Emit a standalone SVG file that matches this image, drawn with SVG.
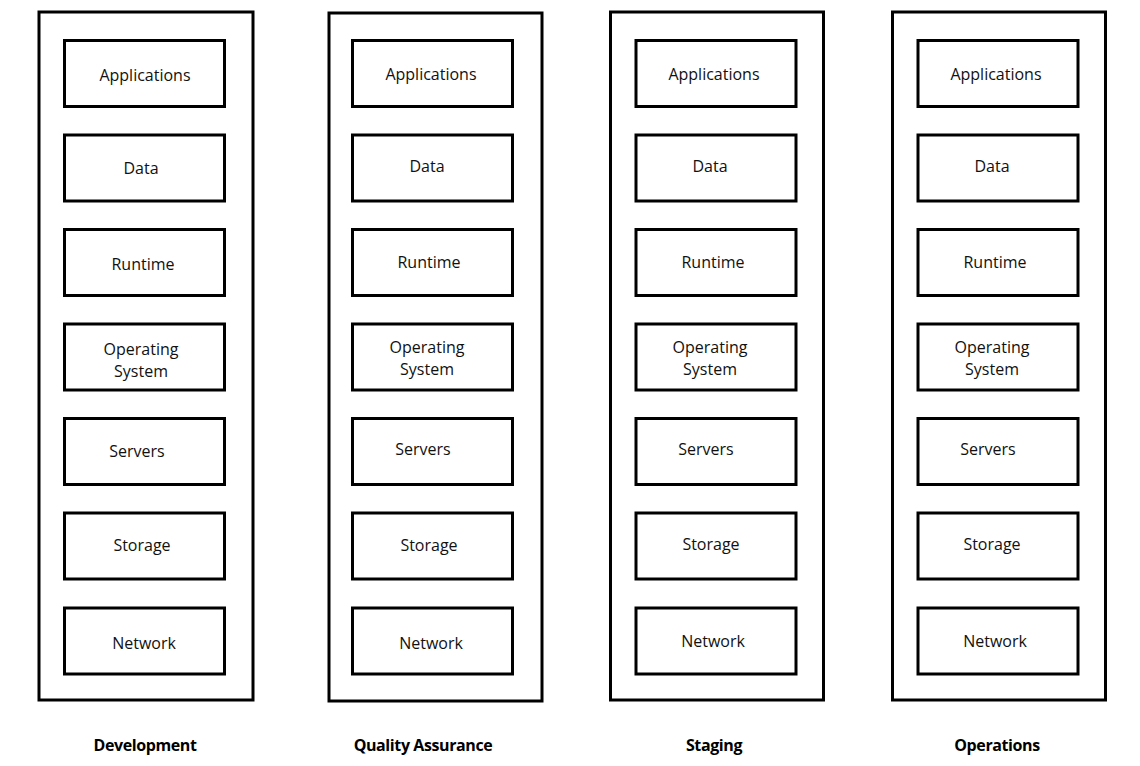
<svg xmlns="http://www.w3.org/2000/svg" width="1140" height="766" viewBox="0 0 1140 766">
<style>
.outer{fill:#fff;stroke:#000;stroke-width:3}
.box{fill:#fff;stroke:#000;stroke-width:3}
.t{font-family:"Open Sans","Noto Sans",sans-serif;font-size:16px;fill:#111;text-anchor:middle;dominant-baseline:central}
.lbl{font-family:"Open Sans","Noto Sans",sans-serif;font-size:16px;font-weight:bold;fill:#000;text-anchor:middle;letter-spacing:-0.4px}
</style>
<rect width="1140" height="766" fill="#fff"/>
<g id="development">
<rect class="outer" x="39" y="12" width="214" height="688"/>
<g id="dev-applications"><rect class="box" x="64.5" y="40.5" width="160" height="66"/><text class="t" x="145" y="75">Applications</text></g>
<g id="dev-data"><rect class="box" x="64.5" y="135" width="160" height="66"/><text class="t" x="141" y="168">Data</text></g>
<g id="dev-runtime"><rect class="box" x="64.5" y="229.5" width="160" height="66"/><text class="t" x="143" y="264">Runtime</text></g>
<g id="dev-os"><rect class="box" x="64.5" y="324" width="160" height="66"/><text class="t" x="141" y="349">Operating</text><text class="t" x="141" y="371">System</text></g>
<g id="dev-servers"><rect class="box" x="64.5" y="418.5" width="160" height="66"/><text class="t" x="137" y="451">Servers</text></g>
<g id="dev-storage"><rect class="box" x="64.5" y="513" width="160" height="66"/><text class="t" x="142" y="545">Storage</text></g>
<g id="dev-network"><rect class="box" x="64.5" y="608" width="160" height="66"/><text class="t" x="144" y="643">Network</text></g>
<text class="lbl" x="145" y="751">Development</text>
</g>
<g id="qa">
<rect class="outer" x="329" y="13" width="213" height="688"/>
<g id="qa-applications"><rect class="box" x="352.5" y="40.5" width="160" height="66"/><text class="t" x="431" y="74">Applications</text></g>
<g id="qa-data"><rect class="box" x="352.5" y="135" width="160" height="66"/><text class="t" x="427" y="166">Data</text></g>
<g id="qa-runtime"><rect class="box" x="352.5" y="229.5" width="160" height="66"/><text class="t" x="429" y="262">Runtime</text></g>
<g id="qa-os"><rect class="box" x="352.5" y="324" width="160" height="66"/><text class="t" x="427" y="347">Operating</text><text class="t" x="427" y="369">System</text></g>
<g id="qa-servers"><rect class="box" x="352.5" y="418.5" width="160" height="66"/><text class="t" x="423" y="449">Servers</text></g>
<g id="qa-storage"><rect class="box" x="352.5" y="513" width="160" height="66"/><text class="t" x="429" y="545">Storage</text></g>
<g id="qa-network"><rect class="box" x="352.5" y="608" width="160" height="66"/><text class="t" x="431" y="643">Network</text></g>
<text class="lbl" x="423" y="751">Quality Assurance</text>
</g>
<g id="staging">
<rect class="outer" x="610.5" y="12" width="213" height="688"/>
<g id="stg-applications"><rect class="box" x="636" y="40.5" width="160" height="66"/><text class="t" x="714" y="74">Applications</text></g>
<g id="stg-data"><rect class="box" x="636" y="135" width="160" height="66"/><text class="t" x="710" y="166">Data</text></g>
<g id="stg-runtime"><rect class="box" x="636" y="229.5" width="160" height="66"/><text class="t" x="713" y="262">Runtime</text></g>
<g id="stg-os"><rect class="box" x="636" y="324" width="160" height="66"/><text class="t" x="710" y="347">Operating</text><text class="t" x="710" y="369">System</text></g>
<g id="stg-servers"><rect class="box" x="636" y="418.5" width="160" height="66"/><text class="t" x="706" y="449">Servers</text></g>
<g id="stg-storage"><rect class="box" x="636" y="513" width="160" height="66"/><text class="t" x="711" y="544">Storage</text></g>
<g id="stg-network"><rect class="box" x="636" y="608" width="160" height="66"/><text class="t" x="713" y="641">Network</text></g>
<text class="lbl" x="714" y="751">Staging</text>
</g>
<g id="operations">
<rect class="outer" x="892.5" y="12" width="213" height="688"/>
<g id="ops-applications"><rect class="box" x="918" y="40.5" width="160" height="66"/><text class="t" x="996" y="74">Applications</text></g>
<g id="ops-data"><rect class="box" x="918" y="135" width="160" height="66"/><text class="t" x="992" y="166">Data</text></g>
<g id="ops-runtime"><rect class="box" x="918" y="229.5" width="160" height="66"/><text class="t" x="995" y="262">Runtime</text></g>
<g id="ops-os"><rect class="box" x="918" y="324" width="160" height="66"/><text class="t" x="992" y="347">Operating</text><text class="t" x="992" y="369">System</text></g>
<g id="ops-servers"><rect class="box" x="918" y="418.5" width="160" height="66"/><text class="t" x="988" y="449">Servers</text></g>
<g id="ops-storage"><rect class="box" x="918" y="513" width="160" height="66"/><text class="t" x="992" y="544">Storage</text></g>
<g id="ops-network"><rect class="box" x="918" y="608" width="160" height="66"/><text class="t" x="995" y="641">Network</text></g>
<text class="lbl" x="997" y="751">Operations</text>
</g>
<g id="connectors"></g>
</svg>
